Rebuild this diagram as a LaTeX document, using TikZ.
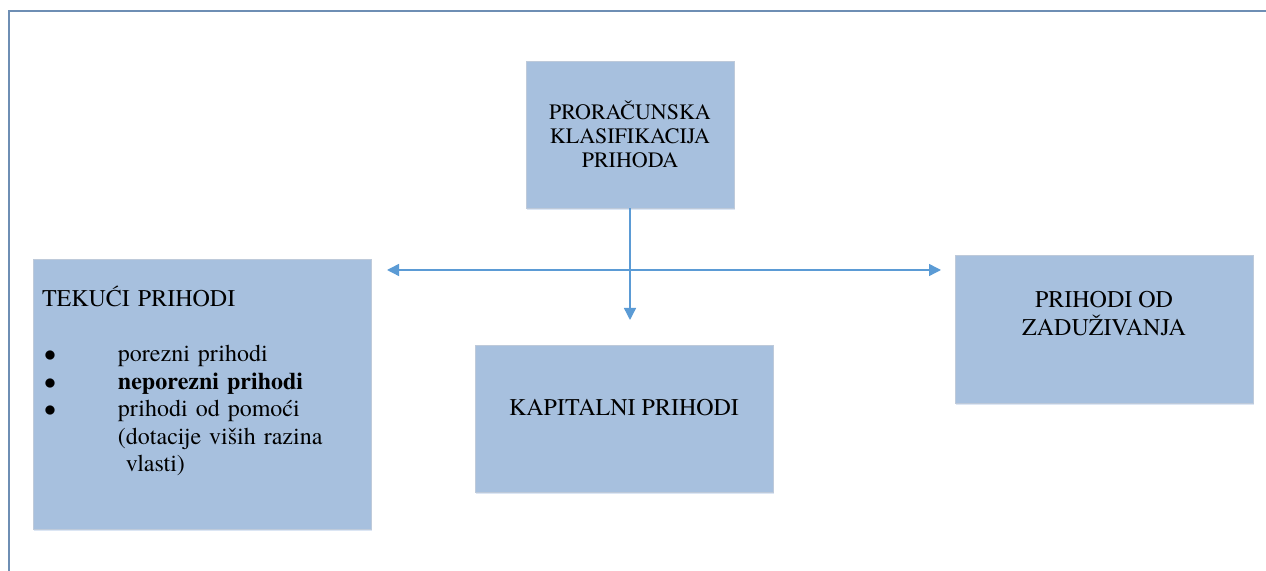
\documentclass[tikz,border=0pt]{standalone}
\usepackage{fontspec}
\IfFontExistsTF{texgyretermes-regular.otf}
  {\setmainfont{texgyretermes}[Extension=.otf, UprightFont=*-regular, BoldFont=*-bold]}
  {\setmainfont{Liberation Serif}}
\usepackage{xcolor}
\usetikzlibrary{positioning,arrows.meta,shadows}

\definecolor{boxblue}{RGB}{167,192,222}
\definecolor{boxedge}{RGB}{190,202,218}
\definecolor{shadeblue}{RGB}{196,214,236}
\definecolor{arrowblue}{RGB}{91,155,213}
\definecolor{framegray}{RGB}{110,142,180}

% raise the text inside a box without changing the box
\newcommand{\lifted}[2]{\raisebox{#1}[\height][\depth]{#2}}

\begin{document}
\begin{tikzpicture}[x=0.5pt,y=-0.5pt,
    box/.style={fill=boxblue, draw=boxedge, line width=0.4pt,
      drop shadow={shadow xshift=0.6pt, shadow yshift=-1pt, fill=shadeblue, opacity=0.6},
      inner sep=4.5pt, font=\fontsize{12}{13.8}\selectfont},
    link/.style={draw=arrowblue, line width=0.7pt}]

    \useasboundingbox (0,0) rectangle (1266,571);

    % frame
    \draw[framegray, line width=1pt] (1266,11) -- (9,11) -- (9,571);

    \node[box, minimum width=104pt, minimum height=73.5pt, align=center,
          font=\fontsize{11}{12}\selectfont] (klas) at (630,134.5)
          {PRORAČUNSKA\\KLASIFIKACIJA\\PRIHODA};

    \node[box, minimum height=135pt, text width=160pt, align=left] (tekuci) at (202,394)
          {\lifted{5.5pt}{\begin{tabular}{@{}p{38pt}@{}l@{}}
            \multicolumn{2}{@{}l}{TEKUĆI PRIHODI}\\[13.8pt]
            \hspace{1pt}$\bullet$ & porezni prihodi\\
            \hspace{1pt}$\bullet$ & \textbf{neporezni prihodi}\\
            \hspace{1pt}$\bullet$ & prihodi od pomoći\\
                        & (dotacije viših razina\\
                        & \ vlasti)
          \end{tabular}}};

    \node[box, minimum width=149pt, minimum height=73.5pt] (kapital) at (624,418.5)
          {\lifted{5.25pt}{KAPITALNI PRIHODI}};

    \node[box, minimum width=149pt, minimum height=74pt] (zaduz) at (1104,329)
          {\lifted{6.5pt}{\begin{tabular}{@{}c@{}}PRIHODI OD\\ZADUŽIVANJA\end{tabular}}};

    \coordinate (down) at (630,320);
    \coordinate (lefttip) at (387,270);
    \coordinate (righttip) at (941,270);

    \draw[link, -{Triangle[length=6pt,width=6pt]}] (klas.south) -- (down);
    \draw[link, {Triangle[length=6pt,width=6pt]}-{Triangle[length=6pt,width=6pt]}] (lefttip) -- (righttip);

\end{tikzpicture}
\end{document}
